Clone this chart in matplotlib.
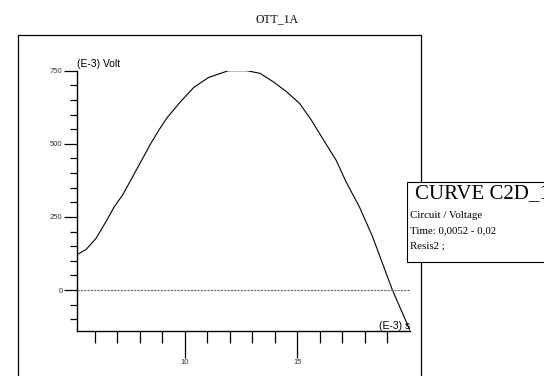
import matplotlib
matplotlib.use('Agg')
import matplotlib.pyplot as plt
from matplotlib.patches import Rectangle

# time in ms (E-3 s), voltage in mV (E-3 Volt)
time_ms = [5.2, 5.62, 6.06, 6.50, 6.87, 7.24, 7.68, 8.05, 8.49, 8.85, 9.22,
           9.81, 10.40, 11.06, 11.94, 12.75, 13.34, 13.93, 14.52, 15.10,
           15.62, 16.21, 16.72, 17.16, 17.75, 18.34, 18.78, 19.22, 20.0]
volt_mv = [120, 139, 177, 234, 285, 325, 387, 439, 501, 547, 590,
           644, 693, 727, 750, 750, 741, 712, 678, 638,
           581, 507, 444, 370, 285, 182, 91, 0, -138]

x_major = [10, 15]
x_minor = [6, 7, 8, 9, 11, 12, 13, 14, 16, 17, 18, 19]
y_major = [0, 250, 500, 750]
y_minor = [-100, -50, 50, 100, 150, 200, 300, 350, 400, 450,
           550, 600, 650, 700]

title = 'OTT_1A'
legend_title = 'CURVE C2D_1'
legend_lines = ['Circuit / Voltage', 'Time: 0,0052 - 0,02', 'Resis2 ;']

W, H = 544, 376
SANS = 'Liberation Sans'
SERIF = 'Liberation Serif'


def main():
    fig = plt.figure(figsize=(W / 100, H / 100), dpi=100)

    # main plot area, pixel box x 76.7..410, y 70.7..331
    ax = fig.add_axes([76.7 / W, (H - 331) / H, (410 - 76.7) / W, (331 - 70.7) / H])
    ax.plot(time_ms, volt_mv, color='black', lw=0.8)
    ax.axhline(0, color='#666666', lw=0.8, ls=(0, (2, 1)))
    ax.set_xlim(5.2, 20)
    ax.set_ylim(-140, 750)

    for s in ('top', 'right'):
        ax.spines[s].set_visible(False)
    for s in ('left', 'bottom'):
        ax.spines[s].set_linewidth(1.0)

    ax.set_xticks(x_major)
    ax.set_xticks(x_minor, minor=True)
    ax.set_yticks(y_major)
    ax.set_yticks(y_minor, minor=True)
    ax.set_xticklabels([str(v) for v in x_major], fontsize=5.5, family=SANS, color='#333333')
    ax.set_yticklabels([str(v) for v in y_major], fontsize=5.5, family=SANS, color='#333333')
    ax.tick_params(axis='x', which='major', direction='out', length=19.4, width=0.9, pad=0.5)
    ax.tick_params(axis='x', which='minor', direction='out', length=8.6, width=0.9)
    ax.tick_params(axis='y', which='major', direction='out', length=9.4, width=0.9, pad=0.8)
    ax.tick_params(axis='y', which='minor', direction='out', length=5.0, width=0.9)

    # overlay in pixel coordinates for frame, titles and the curve box
    ov = fig.add_axes([0, 0, 1, 1], zorder=5)
    ov.set_xlim(0, W)
    ov.set_ylim(H, 0)
    ov.axis('off')
    ov.patch.set_alpha(0)

    ov.plot([18, 18, 421, 421], [H, 35, 35, H], color='black', lw=0.9)
    ov.text(277, 19, title, family=SERIF, fontsize=8.5, ha='center', va='center')

    ov.text(77, 67, '(E-3) Volt', family=SANS, fontsize=7.5, ha='left', va='baseline')
    ov.text(410, 329, '(E-3) s', family=SANS, fontsize=7.5, ha='right', va='baseline')

    ov.add_patch(Rectangle((406.7, 182.3), 200, 79.4, facecolor='white',
                           edgecolor='black', lw=0.8, zorder=6))
    ov.text(415, 198.3, legend_title, family=SERIF, fontsize=15,
            ha='left', va='baseline', zorder=7)
    for i, line in enumerate(legend_lines):
        ov.text(410.5, 218.3 + 15 * i, line, family=SERIF, fontsize=7.8,
                ha='left', va='baseline', zorder=7)

    fig.savefig('out.png', dpi=100)


if __name__ == '__main__':
    main()
